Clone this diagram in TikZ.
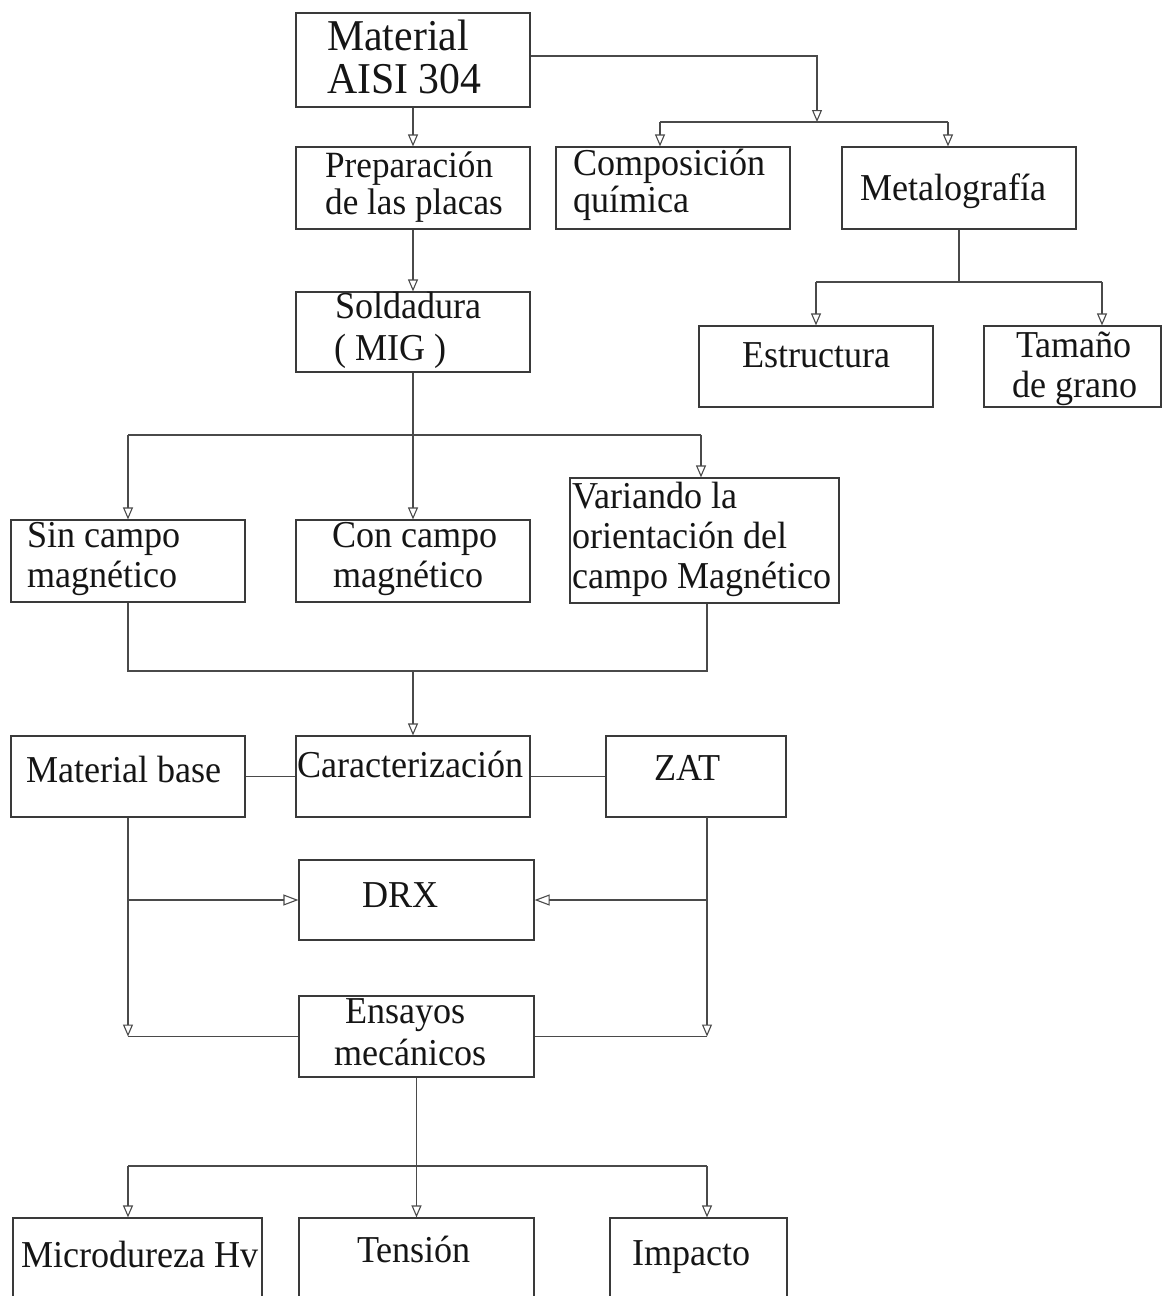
\documentclass[tikz,border=0pt]{standalone}
\usepackage{fontspec}
\setmainfont[FakeStretch=0.95]{Liberation Serif}
\usetikzlibrary{arrows.meta,calc}
\definecolor{linec}{HTML}{3A3A3A}
\definecolor{connc}{HTML}{4A4A4A}
\definecolor{textc}{HTML}{151515}
\begin{document}
\begin{tikzpicture}[x=1pt,y=-1pt,
  box/.style={draw=linec,line width=1.2pt,inner sep=0pt,minimum width=234pt},
  txt/.style={inner sep=0pt,text=textc,anchor=base west,font=\fontsize{38}{40}\selectfont},
  big/.style={txt,font=\fontsize{44}{40}\selectfont},
  ln/.style={draw=connc,line width=1.1pt},
  arr/.style={ln,-{Triangle[open,length=12pt,width=10pt]}},
  harr/.style={ln,-{Triangle[open,length=15pt,width=11pt]}}]
\useasboundingbox (0,0) rectangle (1163,1296);
% boxes
\node[box,minimum height=94pt] (m) at (413,60) {};
\node[box,minimum height=82pt] (p) at (413,188) {};
\node[box,minimum height=82pt] (c) at (673,188) {};
\node[box,minimum height=82pt] (mg) at (959,188) {};
\node[box,minimum height=80pt] (s) at (413,332) {};
\node[box,minimum height=81pt] (e) at (816,366.5) {};
\node[box,minimum height=81pt,minimum width=177pt] (t) at (1072.5,366.5) {};
\node[box,minimum height=82pt] (sc) at (128,561) {};
\node[box,minimum height=82pt] (cc) at (413,561) {};
\node[box,minimum height=125pt,minimum width=269pt] (v) at (704.5,540.5) {};
\node[box,minimum height=81pt] (mb) at (128,776.5) {};
\node[box,minimum height=81pt] (ca) at (413,776.5) {};
\node[box,minimum height=81pt,minimum width=180pt] (z) at (696,776.5) {};
\node[box,minimum height=80pt,minimum width=235pt] (d) at (416.5,900) {};
\node[box,minimum height=81pt,minimum width=235pt] (en) at (416.5,1036.5) {};
\node[box,minimum height=92pt,minimum width=249pt] (mi) at (137.5,1264) {};
\node[box,minimum height=92pt,minimum width=235pt] (te) at (416.5,1264) {};
\node[box,minimum height=92pt,minimum width=177pt] (im) at (698.5,1264) {};
% texts
\node[big] (m1) at (327,50) {Material};
\node[big] (m2) at (327,93) {AISI 304};
\node[txt,font=\fontsize{37}{40}\selectfont] (p1) at (325,177) {Preparación};
\node[txt,font=\fontsize{37}{40}\selectfont] (p2) at (325,214) {de las placas};
\node[txt] (c1) at (573,175) {Composición};
\node[txt] (c2) at (573,212) {química};
\node[txt] (mg1) at (860,200) {Metalografía};
\node[txt] (s1) at (335,318) {Soldadura};
\node[txt] (s2) at (334,360) {( MIG )};
\node[txt] (e1) at (742,367) {Estructura};
\node[txt,anchor=base] (t1) at (1074,357) {Tamaño};
\node[txt,anchor=base] (t2) at (1075,397) {de grano};
\node[txt] (sc1) at (27,547) {Sin campo};
\node[txt] (sc2) at (27,587) {magnético};
\node[txt] (cc1) at (332,547) {Con campo};
\node[txt] (cc2) at (333,587) {magnético};
\node[txt] (v1) at (572,508) {Variando la};
\node[txt] (v2) at (572,548) {orientación del};
\node[txt] (v3) at (572,588) {campo Magnético};
\node[txt] (mb1) at (26,782) {Material base};
\node[txt] (ca1) at (297,777) {Caracterización};
\node[txt] (z1) at (654,780) {ZAT};
\node[txt] (d1) at (362,907) {DRX};
\node[txt] (en1) at (345,1023) {Ensayos};
\node[txt] (en2) at (334,1065) {mecánicos};
\node[txt] (mi1) at (21,1267) {Microdureza Hv};
\node[txt] (te1) at (357,1262) {Tensión};
\node[txt] (im1) at (632,1265) {Impacto};
% junction coordinates
\coordinate (j2) at (817,122);
\coordinate (cL) at (660,122);
\coordinate (cR) at (948,122);
\coordinate (jm) at (959,282);
\coordinate (eL) at (816,282);
\coordinate (tR) at (1102,282);
\coordinate (sL) at (128,435);
\coordinate (sR) at (701,435);
\coordinate (k1) at (128,671);
\coordinate (k2) at (707,671);
\coordinate (zb) at (707,817);
\coordinate (b1) at (128,1036.5);
\coordinate (b2) at (707,1036.5);
\coordinate (f1) at (128,1166);
\coordinate (f2) at (707,1166);
% connectors
\draw[arr] (m.south) -- (p.north);
\draw[arr] ([yshift=4pt]m.east) -| (j2);
\draw[ln] (cL) -- (cR);
\draw[arr] (cL) -- (cL |- c.north);
\draw[arr] (cR) -- (cR |- mg.north);
\draw[arr] (p.south) -- (s.north);
\draw[ln] (mg.south) -- (jm);
\draw[ln] (eL) -- (tR);
\draw[arr] (eL) -- (e.north);
\draw[arr] (tR) -- (tR |- t.north);
\draw[arr] (s.south) -- (cc.north);
\draw[ln] (sL) -- (sR);
\draw[arr] (sL) -- (sc.north);
\draw[arr] (sR) -- (sR |- v.north);
\draw[ln] (sc.south) -- (k1) -- (k2) -- (k2 |- v.south);
\draw[arr] (ca.north |- k1) -- (ca.north);
\draw[ln] (mb.east) -- (ca.west);
\draw[ln] (ca.east) -- (z.west);
\draw[arr] (mb.south) -- (b1);
\draw[harr] (mb.south |- d.west) -- (d.west);
\draw[arr] (zb) -- (b2);
\draw[harr] (zb |- d.east) -- (d.east);
\draw[ln] (b1) -- (en.west);
\draw[ln] (en.east) -- (b2);
\draw[arr] (en.south) -- (te.north);
\draw[ln] (f1) -- (f2);
\draw[arr] (f1) -- (f1 |- mi.north);
\draw[arr] (f2) -- (f2 |- im.north);
\end{tikzpicture}
\end{document}
